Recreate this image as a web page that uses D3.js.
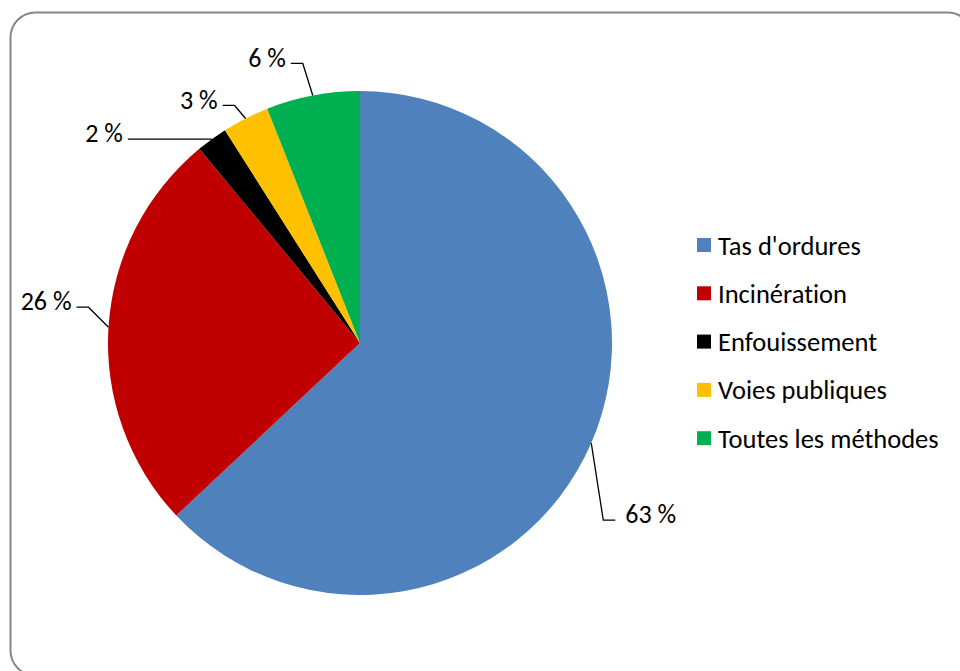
<!DOCTYPE html>
<html>
<head>
<meta charset="utf-8">
<script src="https://cdn.jsdelivr.net/npm/d3@7"></script>
<style>
  html, body { margin: 0; padding: 0; background: #fff; }
  svg { display: block; }
  text {
    font-family: Carlito, Lato, "Open Sans", sans-serif;
    fill: #000;
    font-variant-ligatures: none;
    font-feature-settings: "liga" 0, "dlig" 0;
  }
</style>
</head>
<body>
<div id="chart"></div>
<script>
// Waste disposal methods, share of households (%)
const categories = ["Tas d'ordures", "Incinération", "Enfouissement", "Voies publiques", "Toutes les méthodes"];
const values = [63, 26, 2, 3, 6];
const colors = ["#4F81BD", "#C00000", "#000000", "#FFC000", "#00B050"];

// Leader-line outer ends, relative to each slice's arc midpoint
const labelOffsets = [[24, 77], [-32, -20], [-84, 0], [-23, -13], [-22, -32]];

const W = 960, H = 671;
const cx = 360, cy = 343, R = 252;

const svg = d3.select("#chart").append("svg")
  .attr("width", W).attr("height", H);

// Chart frame
svg.append("rect")
  .attr("x", 10.5).attr("y", 12.5)
  .attr("width", 962).attr("height", 663)
  .attr("rx", 25).attr("ry", 25)
  .attr("fill", "#fff")
  .attr("stroke", "#868686")
  .attr("stroke-width", 2);

const pie = d3.pie().sort(null).value(d => d)(values);
const arc = d3.arc().innerRadius(0).outerRadius(R);

const g = svg.append("g").attr("transform", `translate(${cx},${cy})`);

g.selectAll("path.slice")
  .data(pie)
  .join("path")
  .attr("class", "slice")
  .attr("d", arc)
  .attr("fill", (d, i) => colors[i]);

// Data labels with leader lines
const fmt = v => `${Math.round(v)} %`;
const labels = g.append("g");
pie.forEach((d, i) => {
  const mid = (d.startAngle + d.endAngle) / 2;
  const ax = R * Math.sin(mid), ay = -R * Math.cos(mid);
  const [ox, oy] = labelOffsets[i];
  const ex = ax + ox, ey = ay + oy;
  const right = ex > ax;           // label sits right of the anchor?
  const elbowX = right ? ex - 12 : ex + 12;
  labels.append("path")
    .attr("d", d3.line()([[ex, ey], [elbowX, ey], [ax, ay]]))
    .attr("fill", "none")
    .attr("stroke", "#000")
    .attr("stroke-width", 1.3);
  labels.append("text")
    .attr("x", right ? ex + 10 : ex - 5)
    .attr("y", ey - 6)
    .attr("dy", "0.35em")
    .attr("text-anchor", right ? "start" : "end")
    .style("font-size", "26px")
    .text(fmt(values[i]));
});

// Legend
const legend = svg.append("g").attr("transform", "translate(697,245)");
const rowH = 48.3;
const item = legend.selectAll("g")
  .data(categories)
  .join("g")
  .attr("transform", (d, i) => `translate(0,${i * rowH})`);
item.append("rect")
  .attr("x", 0).attr("y", -7)
  .attr("width", 14).attr("height", 14)
  .attr("fill", (d, i) => colors[i]);
item.append("text")
  .attr("x", 21)
  .attr("y", 0)
  .attr("dy", "0.36em")
  .style("font-size", "26.5px")
  .text(d => d);
</script>
</body>
</html>
